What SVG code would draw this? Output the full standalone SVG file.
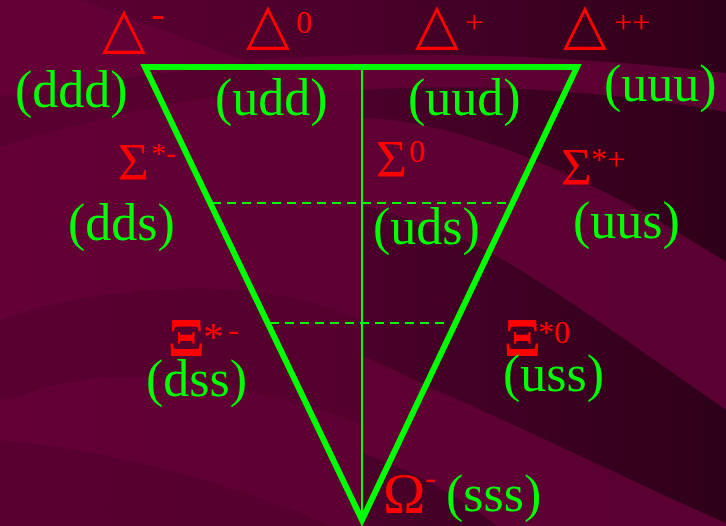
<svg xmlns="http://www.w3.org/2000/svg" width="726" height="526" viewBox="0 0 726 526">
<defs>
<linearGradient id="bg" gradientUnits="userSpaceOnUse" x1="0" y1="0" x2="726" y2="0">
<stop offset="0" stop-color="#600034"/>
<stop offset="0.5" stop-color="#4a002a"/>
<stop offset="1" stop-color="#2e0018"/>
</linearGradient>
<linearGradient id="lg" gradientUnits="userSpaceOnUse" x1="0" y1="0" x2="726" y2="0">
<stop offset="0" stop-color="#650037"/>
<stop offset="1" stop-color="#5a0032"/>
</linearGradient>
<style>
.q{font-family:"Liberation Serif","Times New Roman",serif;font-size:52px;fill:#00ff00}
.r{font-family:"Liberation Serif","Times New Roman",serif;font-size:53px;fill:#ff0000}
.o{font-family:"Liberation Serif","Times New Roman",serif;font-size:57px;fill:#ff0000}
.x{font-family:"Liberation Serif","Times New Roman",serif;font-size:54px;font-weight:bold;fill:#ff0000}
.s{font-family:"Liberation Serif","Times New Roman",serif;font-size:32px;fill:#ff0000}
.t{font-family:"DejaVu Sans",sans-serif;font-size:57px;fill:#ff0000}
.edge{fill:none;stroke:#00ff00}
.dash{stroke:#00ff00;stroke-width:2;stroke-dasharray:9 6}
.lt{fill:url(#lg)}
.dk{fill:#300018;opacity:0.2}
</style>
</defs>
<rect width="726" height="526" fill="url(#bg)"/>
<g id="background">
<path class="lt" d="M0,0 L80,0 C150,25 200,45 250,62 C180,70 90,82 0,97 Z"/>
<path class="lt" d="M0,97 C120,80 250,65 363,60 L363,526 L0,526 Z" opacity="0.85"/>
<path class="dk" d="M0,97 C100,82 230,66 360,58 L360,75 C250,88 120,110 0,147 Z"/>
<path class="lt" d="M250,60 C420,48 600,58 726,73 L726,112 C620,92 480,82 363,90 L300,95 Z"/>
<path class="lt" d="M363,118 C450,120 580,168 726,262 L726,410 C640,350 570,300 507,262 C460,235 420,222 363,205 Z"/>
<path class="lt" d="M363,356 C400,372 420,384 440,392 C550,440 650,490 726,523 L726,526 L497,526 C470,505 430,478 363,453 Z"/>
<path class="dk" d="M0,320 C80,292 180,282 260,293 C310,300 340,310 363,322 L363,425 C300,398 200,375 110,377 C70,380 40,388 20,397 L0,400 Z"/>
<path class="dk" d="M0,440 C120,450 250,490 330,526 L0,526 Z" opacity="0.1"/>
</g>
<g id="connectors">
<polygon class="edge" stroke-width="6" points="145,67 577,67 362,520"/>
<line class="edge" stroke-width="2" x1="362" y1="67" x2="362" y2="520"/>
<line class="dash" x1="212" y1="203" x2="512" y2="203"/>
<line class="dash" x1="270" y1="323" x2="450" y2="323"/>
</g>
<g id="delta-minus"><text class="t" x="102" y="47">△</text><text class="s" x="151" y="27" style="font-size:40px">-</text><text class="q" x="15" y="107">(ddd)</text></g>
<g id="delta-zero"><text class="t" x="246" y="43">△</text><text class="s" x="296" y="33">0</text><text class="q" x="215" y="115">(udd)</text></g>
<g id="delta-plus"><text class="t" x="415" y="43">△</text><text class="s" x="465" y="33">+</text><text class="q" x="408" y="115">(uud)</text></g>
<g id="delta-plusplus"><text class="t" x="563" y="43">△</text><text class="s" x="614" y="33">++</text><text class="q" x="604" y="101">(uuu)</text></g>
<g id="sigma-minus"><text class="r" x="118" y="180">Σ</text><text class="s" x="151" y="163" style="font-size:30px">*-</text><text class="q" x="68" y="240">(dds)</text></g>
<g id="sigma-zero"><text class="r" x="376" y="177">Σ</text><text class="s" x="409" y="162">0</text><text class="q" x="373" y="244">(uds)</text></g>
<g id="sigma-plus"><text class="r" x="561" y="185">Σ</text><text class="s" x="591" y="170">*+</text><text class="q" x="573" y="238">(uus)</text></g>
<g id="xi-minus"><text class="x" x="168" y="356">Ξ</text><text class="s" x="203" y="350" style="font-size:40px">*</text><text class="s" x="228" y="340">-</text><text class="q" x="146" y="396">(dss)</text></g>
<g id="xi-zero"><text class="x" x="504" y="356">Ξ</text><text class="s" x="538" y="343">*0</text><text class="q" x="503" y="391">(uss)</text></g>
<g id="omega-minus"><text class="o" x="383" y="513">Ω</text><text class="s" x="425" y="488">-</text><text class="q" x="446" y="511">(sss)</text></g>
</svg>
